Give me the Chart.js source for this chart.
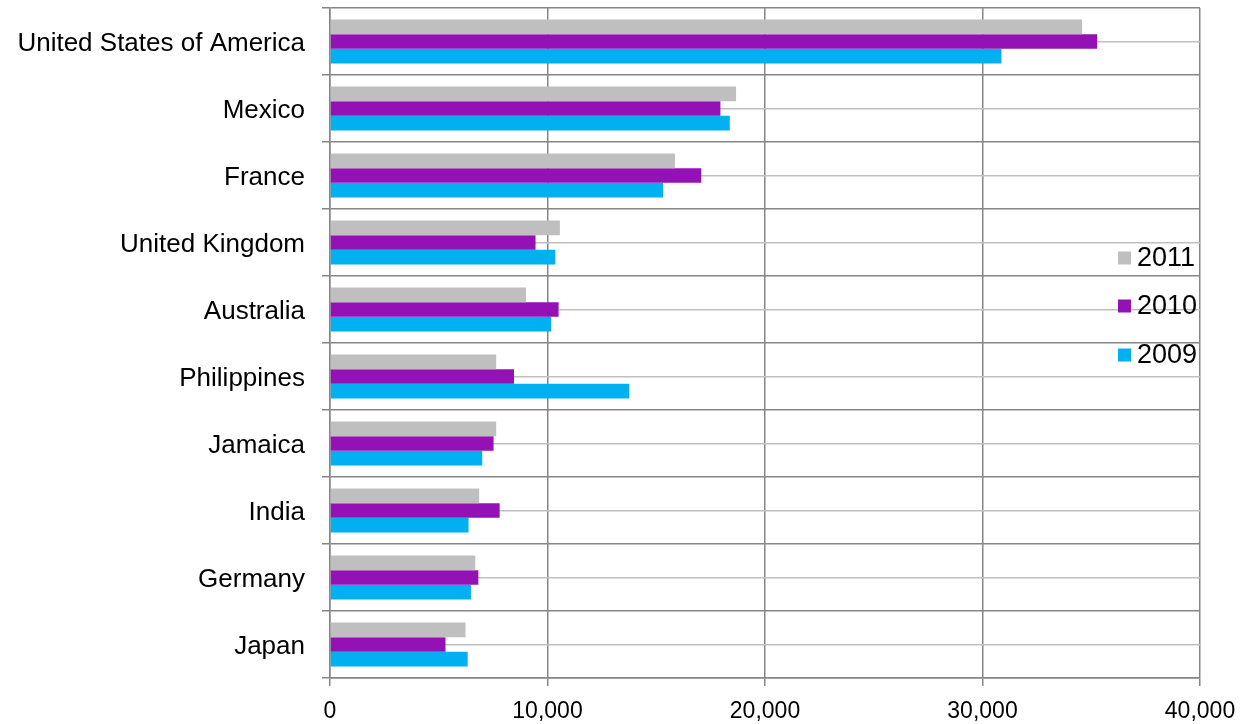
<!DOCTYPE html>
<html>
<head>
<meta charset="utf-8">
<title>Top countries 2009-2011</title>
<script src="https://cdn.jsdelivr.net/npm/chart.js@4/dist/chart.umd.min.js"></script>
<style>
  html, body { margin: 0; padding: 0; background: #fff; }
  #wrap { width: 1245px; height: 724px; position: relative; }
</style>
</head>
<body>
<div id="wrap"><canvas id="countryChart"></canvas></div>
<script>
// chart data
const countries = ["United States of America", "Mexico", "France", "United Kingdom", "Australia",
  "Philippines", "Jamaica", "India", "Germany", "Japan"];
const values2011 = [34580, 18670, 15860, 10570, 9010, 7640, 7640, 6860, 6680, 6230];
const values2010 = [35270, 17950, 17070, 9450, 10510, 8460, 7520, 7800, 6820, 5310];
const values2009 = [30870, 18380, 15310, 10360, 10170, 13760, 7000, 6370, 6480, 6330];
const xTicks = [0, 10000, 20000, 30000, 40000];

const FONT = "'Liberation Sans', Arial, sans-serif";
const DARK = "#868686";
const LIGHT = "#c0c0c0";

// legend drawn inside the plot, right side
const insideLegend = {
  id: "insideLegend",
  afterDraw(chart) {
    const ctx = chart.ctx;
    const area = chart.chartArea;
    const rows = [258, 306, 355];
    ctx.save();
    ctx.font = "27px " + FONT;
    ctx.textBaseline = "middle";
    ctx.textAlign = "left";
    chart.data.datasets.forEach((ds, i) => {
      const y = rows[i];
      ctx.fillStyle = ds.backgroundColor;
      ctx.fillRect(area.right - 82, y - 6.5, 13, 13);
      ctx.fillStyle = "#000";
      ctx.fillText(ds.label, area.right - 63, y + 1);
    });
    ctx.restore();
  }
};

// axes should not reserve room for label overhang
const noPad = (scale) => {
  scale.paddingTop = 0;
  scale.paddingBottom = 0;
  scale.paddingLeft = 0;
  scale.paddingRight = 0;
};

const ctx = document.getElementById("countryChart").getContext("2d");

new Chart(ctx, {
  type: "bar",
  data: {
    labels: countries,
    datasets: [
      { label: "2011", data: values2011, backgroundColor: "#bfbfbf", yAxisID: "y" },
      { label: "2010", data: values2010, backgroundColor: "#9411b5", yAxisID: "y" },
      { label: "2009", data: values2009, backgroundColor: "#00b0f0", yAxisID: "y" },
    ],
  },
  options: {
    indexAxis: "y",
    responsive: true,
    maintainAspectRatio: false,
    animation: false,
    categoryPercentage: 0.66,
    barPercentage: 1.0,
    layout: {
      padding: { top: 8, right: 45, left: 0, bottom: 0 },
    },
    plugins: {
      legend: { display: false },
      tooltip: { enabled: false },
    },
    scales: {
      x: {
        type: "linear",
        min: xTicks[0],
        max: xTicks[xTicks.length - 1],
        afterBuildTicks: (scale) => {
          scale.ticks = xTicks.map((v) => ({ value: v }));
        },
        grid: { color: DARK, lineWidth: 1.5, tickLength: 8 },
        border: { color: DARK, width: 1.5 },
        ticks: {
          color: "#000",
          padding: 12,
          maxRotation: 0,
          font: { family: FONT, size: 23 },
          callback: (v) => v.toLocaleString("en-US"),
        },
        afterFit: (scale) => { scale.height = 46; noPad(scale); },
      },
      y: {
        type: "category",
        position: "left",
        offset: true,
        grid: { offset: true, color: DARK, lineWidth: 1.5, tickLength: 8 },
        border: { color: DARK, width: 1.5 },
        ticks: {
          color: "#000",
          padding: 17,
          labelOffset: 2,
          font: { family: FONT, size: 26 },
        },
        afterFit: (scale) => { scale.width = 330; noPad(scale); },
      },
      // lighter lines through the middle of each category
      yMid: {
        type: "category",
        position: "left",
        offset: true,
        grid: { offset: false, color: LIGHT, lineWidth: 1.5, drawTicks: false },
        border: { display: false },
        ticks: { display: false },
        afterFit: (scale) => { scale.width = 0; noPad(scale); },
      },
    },
  },
  plugins: [insideLegend],
});
</script>
</body>
</html>
